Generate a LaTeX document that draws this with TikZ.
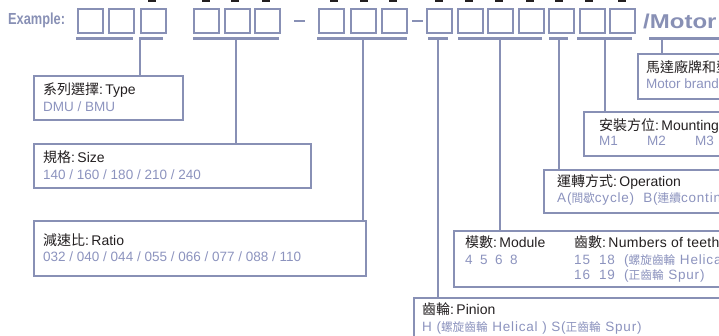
\documentclass[tikz,border=0pt]{standalone}
\usepackage{fontspec}
\setmainfont{Liberation Sans}
\newfontfamily\cjk{Noto Sans CJK TC}
\newfontfamily\lsfont[LetterSpace=6]{Liberation Sans}
\newfontfamily\lstfont[LetterSpace=2]{Liberation Sans}
\definecolor{ln}{HTML}{8890B5}
\definecolor{vt}{HTML}{8C93BE}
\definecolor{tx}{HTML}{231F20}
\newcommand{\cjs}[1]{{\cjk\fontsize{11.7}{16}\selectfont #1}}
\begin{document}
\begin{tikzpicture}[x=1pt,y=-1pt,
  sq/.style={draw=ln,line width=2pt,minimum width=25pt,minimum height=24pt,inner sep=0pt,anchor=north west},
  ib/.style={draw=ln,line width=2pt,inner sep=0pt,anchor=north west},
  br/.style={draw=ln,line width=2.2pt},
  ttl/.style={anchor=base west,inner sep=0pt,text=tx,font=\fontsize{14}{16}\selectfont},
  val/.style={anchor=base west,inner sep=0pt,text=vt,font=\fontsize{13.5}{16}\selectfont},
  vls/.style={val,font=\lsfont\fontsize{13.5}{16}\selectfont}]
\useasboundingbox (0,0) rectangle (719,335);
\clip (0,0) rectangle (719,335);
% black marks at the top edge
\foreach \c in {152,206,235,266,334,364,393,439,469,499,530,559,589,622}
  \fill[tx] (\c-4.3,0) rectangle (\c+4.3,2.3);
% example label
\node[anchor=base west,inner sep=0pt,text=ln] (ex) at (8,24) {\scalebox{0.8}[1]{\fontsize{16}{16}\selectfont\bfseries Example:}};
% code squares
\node[sq] (b1) at (77,8) {};
\node[sq] (b2) at (108,8) {};
\node[sq] (b3) at (140,8) {};
\node[sq] (b4) at (193,8) {};
\node[sq] (b5) at (223.5,8) {};
\node[sq] (b6) at (254,8) {};
\node[sq] (b7) at (318,8) {};
\node[sq] (b8) at (349.5,8) {};
\node[sq] (b9) at (381,8) {};
\node[sq] (b10) at (426,8) {};
\node[sq] (b11) at (456.5,8) {};
\node[sq] (b12) at (487,8) {};
\node[sq] (b13) at (517.5,8) {};
\node[sq] (b14) at (548,8) {};
\node[sq] (b15) at (578.5,8) {};
\node[sq] (b16) at (609,8) {};
\node[anchor=base west,inner sep=0pt,text=ln] (mot) at (643,28) {\scalebox{1.2}[1]{\fontsize{20}{20}\selectfont\bfseries /Motor}};
% dashes
\draw[br] (b6.east) ++(13,0) coordinate (d1a) -- ++(11,0) coordinate (d1b);
\draw[br] (b9.east) ++(4,0) coordinate (d2a) -- ++(11,0) coordinate (d2b);
% info boxes
\node[ib,minimum width=149pt,minimum height=44pt] (type) at (33,75) {};
\node[ib,minimum width=277pt,minimum height=44pt] (size) at (33,143) {};
\node[ib,minimum width=332pt,minimum height=55pt] (ratio) at (33,220) {};
\node[ib,minimum width=200pt,minimum height=45pt] (motor) at (637,53) {};
\node[ib,minimum width=200pt,minimum height=44pt] (mount) at (583,111) {};
\node[ib,minimum width=220pt,minimum height=43pt] (oper) at (543,169) {};
\node[ib,minimum width=300pt,minimum height=56pt] (modl) at (453,230) {};
\node[ib,minimum width=340pt,minimum height=60pt] (pin) at (413,297) {};
% brackets
\draw[br] (76,38.5) -- (133,38.5);
\draw[br] (139,38.5) -- (163,38.5);
\draw[br] (193,38.5) -- (279,38.5);
\draw[br] (317,38.5) -- (407,38.5);
\draw[br] (428,38.5) -- (448,38.5);
\draw[br] (458,38.5) -- (542,38.5);
\draw[br] (549,38.5) -- (568,38.5);
\draw[br] (577,38.5) -- (632,38.5);
\draw[br] (649,38.5) -- (725,38.5);
\coordinate (k1) at (140,38.5);
\coordinate (k2) at (236,38.5);
\coordinate (k3) at (363,38.5);
\coordinate (k4) at (438,38.5);
\coordinate (k5) at (500,38.5);
\coordinate (k6) at (559,38.5);
\coordinate (k7) at (605,38.5);
\coordinate (k8) at (662,38.5);
\draw[br] (k1) -- (k1 |- type.north);
\draw[br] (k2) -- (k2 |- size.north);
\draw[br] (k3) -- (k3 |- ratio.north);
\draw[br] (k4) -- (k4 |- pin.north);
\draw[br] (k5) -- (k5 |- modl.north);
\draw[br] (k6) -- (k6 |- oper.north);
\draw[br] (k7) -- (k7 |- mount.north);
\draw[br] (k8) -- (k8 |- motor.north);
% texts
\node[ttl] (t1) at (43,94) {\cjk 系列選擇\rmfamily:\,Type};
\node[val] (v1) at (43,111) {DMU / BMU};
\node[ttl] (t2) at (43,162) {\cjk 規格\rmfamily:\,Size};
\node[val] (v2) at (43,179) {140 / 160 / 180 / 210 / 240};
\node[ttl] (t3) at (43,245.5) {\cjk 減速比\rmfamily:\,Ratio};
\node[val] (v3) at (43,261.5) {032 / 040 / 044 / 055 / 066 / 077 / 088 / 110};
\node[ttl] (t4) at (646,72) {\cjk 馬達廠牌和型號};
\node[val] (v4) at (646,88) {Motor brand};
\node[ttl] (t5) at (599,130.5) {\cjk 安裝方位\rmfamily:\,Mounting};
\node[val] (v5a) at (599,145) {M1};
\node[val] (v5b) at (647,145) {M2};
\node[val] (v5c) at (695,145) {M3};
\node[ttl] (t6) at (557,186) {\cjk 運轉方式\rmfamily:\,Operation};
\node[vls] (v6) at (557,202.5) {A(\cjs{間歇}cycle)\ \ B(\cjs{連續}continuous)};
\node[ttl] (t7) at (465,247) {\cjk 模數\rmfamily:\,Module};
\node[val] (v7) at (465,264) {4\ \ 5\ \ 6\ \ 8};
\node[ttl] (t8) at (574,247) {\cjk 齒數\lstfont:\,Numbers of teeth};
\node[vls] (v8a) at (574,264) {15\ \ 18\ \ (\cjs{螺旋齒輪} Helical)};
\node[vls] (v8b) at (574,279) {16\ \ 19\ \ (\cjs{正齒輪} Spur)};
\node[ttl] (t9) at (422,314) {\cjk 齒輪\rmfamily:\,Pinion};
\node[vls] (v9) at (422,331.5) {H (\cjs{螺旋齒輪} Helical ) S(\cjs{正齒輪} Spur)};
\end{tikzpicture}
\end{document}
